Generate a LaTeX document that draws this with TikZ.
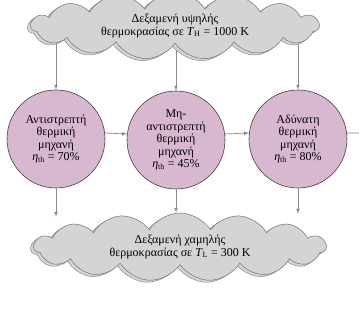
\documentclass[tikz,border=0pt]{standalone}
\usepackage{fontspec}
\setmainfont{Liberation Serif}
\usepackage[dvipsnames]{xcolor}
\usetikzlibrary{arrows, shapes.symbols, shadows, backgrounds}
\definecolor{enginefill}{RGB}{216,184,208}
\definecolor{mist}{RGB}{212,212,212}
\definecolor{flow}{RGB}{140,140,140}

\begin{document}
\begin{tikzpicture}[x=1pt, y=-1pt,
    reservoir/.style={cloud, cloud puffs=15, cloud puff arc=115, cloud ignores aspect,
        draw=black!55, fill=mist, line width=0.5pt, align=center,
        font=\fontsize{12}{12.5}\selectfont,
        copy shadow={shadow xshift=-3pt, shadow yshift=-2pt, draw=black!45, fill=mist}},
    engine/.style={circle, draw=black!75, fill=enginefill, line width=0.6pt,
        minimum size=98pt, inner sep=0pt, align=center,
        font=\fontsize{12}{12.5}\selectfont},
    heat/.style={-latex, draw=flow, fill=flow, line width=0.7pt}]
    \useasboundingbox (0,0) rectangle (359,326);
    \clip (0,0) rectangle (359,326);

    \node[reservoir, minimum width=288pt, minimum height=46pt] (hot) at (175,26)
        {Δεξαμενή υψηλής\\θερμοκρασίας σε \textit{T}\textsubscript{H} = 1000 K};
    \node[engine] (rev) at (56,139) {Αντιστρεπτή\\θερμική\\μηχανή\\\textit{η}\textsubscript{th} = 70\%};
    \node[engine] (irr) at (176,140) {Μη-\\αντιστρεπτή\\θερμική\\μηχανή\\\textit{η}\textsubscript{th} = 45\%};
    \node[engine] (imp) at (298,139) {Αδύνατη\\θερμική\\μηχανή\\\textit{η}\textsubscript{th} = 80\%};
    \node[reservoir, minimum width=292pt, minimum height=68pt] (cold) at (180,247)
        {Δεξαμενή χαμηλής\\θερμοκρασίας σε \textit{T}\textsubscript{L} = 300 K};
    \coordinate (out) at (368,133);

    % heat in, drawn behind the upper reservoir
    \begin{scope}[on background layer]
        \draw[heat] (hot.center -| rev) -- (rev);
        \draw[heat] (hot.center -| irr) -- (irr);
        \draw[heat] (hot.center -| imp) -- (imp);
    \end{scope}

    % work
    \draw[heat] (rev.7) -- (irr.173);
    \draw[heat] (irr.7) -- (imp.173);
    \draw[heat] (imp.7) -- (out);

    % heat out
    \draw[heat] (rev) -- ([yshift=-4pt]cold.north -| rev);
    \draw[heat] (irr) -- (cold.north -| irr);
    \draw[heat] (imp) -- ([yshift=-1pt]cold.north -| imp);
\end{tikzpicture}
\end{document}
